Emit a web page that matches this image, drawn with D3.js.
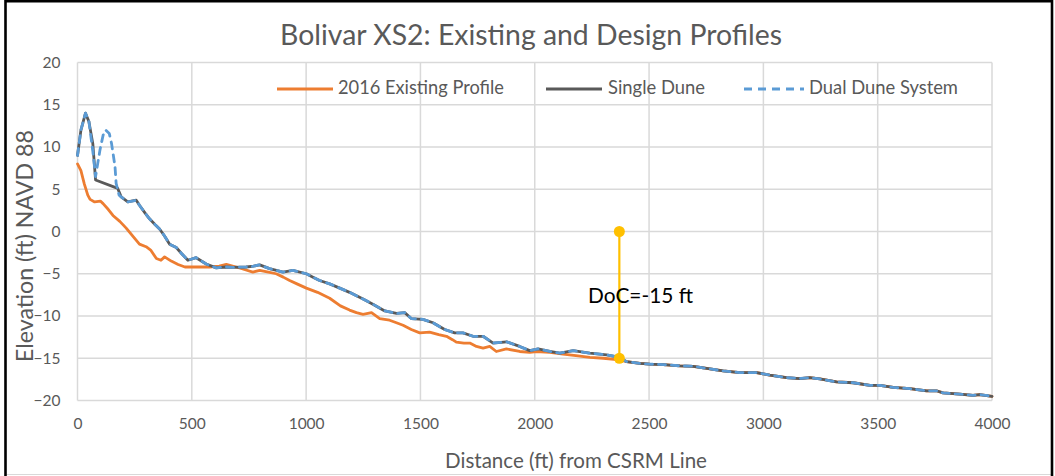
<!DOCTYPE html>
<html>
<head>
<meta charset="utf-8">
<script src="https://cdn.jsdelivr.net/npm/d3@7"></script>
<style>
  html, body { margin: 0; padding: 0; background: #fff; }
  svg { display: block; font-family: Lato, "Open Sans", sans-serif; }
</style>
</head>
<body>
<svg id="chart" width="1055" height="476"></svg>
<script>
// ---- Profile data: distance (ft) from CSRM line, elevation (ft NAVD 88) ----
const existingDist = [0, 15, 30, 45, 55, 75, 100, 112, 135, 155, 185, 213, 240, 271, 300, 320, 345, 365, 381, 410, 440, 470, 520, 578, 620, 651, 694, 730, 767, 797, 835, 869, 900, 928, 960, 1001, 1050, 1103, 1150, 1190, 1220, 1249, 1286, 1322, 1365, 1395, 1424, 1460, 1497, 1540, 1580, 1614, 1640, 1657, 1690, 1716, 1745, 1774, 1803, 1832, 1876, 1934, 1978, 2007, 2066, 2124, 2180, 2241, 2300, 2370];
const existingElev = [8.0, 7.2, 5.6, 4.3, 3.8, 3.5, 3.6, 3.3, 2.6, 1.9, 1.2, 0.4, -0.5, -1.5, -1.8, -2.2, -3.2, -3.4, -3.0, -3.5, -3.9, -4.2, -4.2, -4.2, -4.1, -3.9, -4.2, -4.5, -4.8, -4.6, -4.8, -5.0, -5.4, -5.8, -6.2, -6.7, -7.2, -7.9, -8.8, -9.3, -9.6, -9.8, -9.6, -10.3, -10.5, -10.8, -11.1, -11.6, -12.0, -11.9, -12.2, -12.4, -12.8, -13.1, -13.2, -13.2, -13.6, -13.8, -13.6, -14.2, -13.9, -14.2, -14.3, -14.2, -14.3, -14.5, -14.7, -14.9, -15.0, -15.2];

// Dune crest section of each design
const singleDuneDist = [0, 15, 35, 50, 67, 79, 176];
const singleDuneElev = [9.0, 12.0, 14.0, 13.0, 10.4, 6.1, 5.1];
const dualDuneDist = [0, 15, 35, 50, 67, 79, 98, 112, 123, 139, 149, 164, 169, 182];
const dualDuneElev = [9.0, 12.0, 14.0, 13.0, 9.5, 6.5, 9.6, 11.4, 12.0, 11.6, 10.4, 7.7, 5.7, 4.3];

// Shared design berm / nearshore fill
const designDist = [191, 220, 257, 271, 295, 315, 340, 359, 380, 403, 432, 455, 483, 519, 563, 607, 650, 680, 738, 770, 797, 840, 870, 899, 942, 1001, 1030, 1059, 1103, 1147, 1190, 1249, 1292, 1344, 1395, 1431, 1460, 1511, 1555, 1606, 1650, 1686, 1730, 1774, 1818, 1876, 1934, 1978, 2015, 2066, 2110, 2168, 2241, 2314, 2372];
const designElev = [4.1, 3.5, 3.7, 3.1, 2.2, 1.5, 0.8, 0.3, -0.5, -1.5, -1.9, -2.6, -3.4, -3.1, -3.85, -4.3, -4.2, -4.25, -4.2, -4.1, -3.95, -4.4, -4.6, -4.8, -4.6, -5.0, -5.4, -5.8, -6.2, -6.7, -7.2, -8.0, -8.6, -9.4, -9.7, -9.6, -10.3, -10.4, -10.8, -11.6, -12.0, -12.0, -12.4, -12.4, -13.2, -13.05, -13.6, -14.1, -13.9, -14.2, -14.4, -14.1, -14.4, -14.6, -14.9];

// Offshore of the depth of closure (all profiles coincide)
const offshoreDist = [2401, 2460, 2503, 2562, 2635, 2693, 2752, 2824, 2897, 2970, 3028, 3101, 3159, 3203, 3247, 3320, 3393, 3466, 3510, 3568, 3641, 3714, 3757, 3786, 3859, 3917, 3946, 4000];
const offshoreElev = [-15.4, -15.6, -15.7, -15.75, -15.9, -15.95, -16.2, -16.5, -16.7, -16.7, -17.0, -17.3, -17.4, -17.3, -17.45, -17.8, -17.9, -18.2, -18.2, -18.45, -18.6, -18.85, -18.85, -19.1, -19.25, -19.4, -19.3, -19.5];

// Depth of closure marker
const docDistance = 2370;
const docTop = 0;
const docDepth = -15;
const docLabel = "DoC=-15 ft";

const xTicks = [0, 500, 1000, 1500, 2000, 2500, 3000, 3500, 4000];
const yTicks = [-20, -15, -10, -5, 0, 5, 10, 15, 20];

const seriesNames = ["2016 Existing Profile", "Single Dune", "Dual Dune System"];
const titleText = "Bolivar XS2: Existing and Design Profiles";
const xTitle = "Distance (ft) from CSRM Line";
const yTitle = "Elevation (ft) NAVD 88";

// ---- Build point lists ----
const zip = (xs, ys) => xs.map((d, i) => ({ d, e: ys[i] }));
const offshore = zip(offshoreDist, offshoreElev);
const design = zip(designDist, designElev);
const existingPts = zip(existingDist, existingElev).concat(offshore);
const singlePts = zip(singleDuneDist, singleDuneElev).concat(design, offshore);
const dualPts = zip(dualDuneDist, dualDuneElev).concat(design, offshore);

// ---- Layout ----
const svg = d3.select("#chart");
const W = 1055, H = 476;
const plot = { left: 77.5, right: 992, top: 62.5, bottom: 400.5 };

const x = d3.scaleLinear().domain([0, 4000]).range([plot.left, plot.right]);
const y = d3.scaleLinear().domain([-20, 20]).range([plot.bottom, plot.top]);

const grey = "#595959";

// background and frame
svg.append("rect").attr("width", W).attr("height", H).attr("fill", "#fff");
svg.append("line").attr("x1", 6).attr("x2", 1052).attr("y1", 474.5).attr("y2", 474.5)
  .attr("stroke", "#d9d9d9").attr("stroke-width", 1);
svg.append("rect").attr("x", 5.5).attr("y", 1.2).attr("width", 1046.5).attr("height", 490)
  .attr("fill", "none").attr("stroke", "#000").attr("stroke-width", 2.6);

// gridlines
const grid = svg.append("g");
grid.selectAll(".hg").data(yTicks).join("line")
  .attr("x1", plot.left).attr("x2", plot.right)
  .attr("y1", d => y(d)).attr("y2", d => y(d))
  .attr("stroke", "#d9d9d9").attr("stroke-width", 1.5);
grid.selectAll(".vg").data(xTicks).join("line")
  .attr("x1", d => x(d)).attr("x2", d => x(d))
  .attr("y1", plot.top).attr("y2", plot.bottom)
  .attr("stroke", "#d9d9d9").attr("stroke-width", 1.5);

// axes (labels only, Excel-style)
const xAxis = svg.append("g").attr("transform", `translate(0,${plot.bottom + 14})`)
  .call(d3.axisBottom(x).tickValues(xTicks).tickSize(0).tickFormat(d3.format("d")));
xAxis.select(".domain").remove();
xAxis.selectAll("text").attr("fill", grey).attr("font-size", 15.5)
  .attr("font-family", "Lato, sans-serif").attr("dy", "0.71em");

const yAxis = svg.append("g").attr("transform", `translate(${plot.left - 14},0)`)
  .call(d3.axisLeft(y).tickValues(yTicks).tickSize(0).tickFormat(d3.format("d")));
yAxis.select(".domain").remove();
yAxis.selectAll("text").attr("fill", grey).attr("font-size", 15.5)
  .attr("font-family", "Lato, sans-serif");

// fit a text element to a target width by adjusting its font size
function fitWidth(sel, target) {
  const n = sel.node();
  const fs = parseFloat(sel.attr("font-size"));
  const w = n.getComputedTextLength();
  if (w > 0) sel.attr("font-size", (fs * target / w).toFixed(2));
  return sel;
}

// title
fitWidth(svg.append("text").attr("x", 531).attr("y", 38).attr("text-anchor", "middle")
  .attr("dominant-baseline", "middle").attr("fill", grey).attr("font-size", 24)
  .text(titleText), 502);

// axis titles
fitWidth(svg.append("text").attr("x", 576).attr("y", 463).attr("text-anchor", "middle")
  .attr("dominant-baseline", "middle").attr("fill", grey).attr("font-size", 17)
  .text(xTitle), 262);
fitWidth(svg.append("text").attr("transform", "translate(27,246) rotate(-90)")
  .attr("text-anchor", "middle").attr("dominant-baseline", "middle")
  .attr("fill", grey).attr("font-size", 17).text(yTitle), 232);

// profile lines
const line = d3.line().x(p => x(p.d)).y(p => y(p.e));
const lines = svg.append("g").attr("fill", "none").attr("stroke-linejoin", "round");
lines.append("path").datum(existingPts).attr("d", line)
  .attr("stroke", "#ED7D31").attr("stroke-width", 2.8).attr("stroke-linecap", "round");
lines.append("path").datum(singlePts).attr("d", line)
  .attr("stroke", grey).attr("stroke-width", 2.8).attr("stroke-linecap", "round");
lines.append("path").datum(dualPts).attr("d", line)
  .attr("stroke", "#5B9BD5").attr("stroke-width", 2.8).attr("stroke-linecap", "round")
  .attr("stroke-dasharray", "7,6");

// depth of closure marker
const doc = svg.append("g");
doc.append("line").attr("x1", x(docDistance)).attr("x2", x(docDistance))
  .attr("y1", y(docTop)).attr("y2", y(docDepth))
  .attr("stroke", "#FFC000").attr("stroke-width", 2.2);
doc.selectAll("circle").data([docTop, docDepth]).join("circle")
  .attr("cx", x(docDistance)).attr("cy", d => y(d)).attr("r", 5.5).attr("fill", "#FFC000");
fitWidth(doc.append("text").attr("x", 588).attr("y", 298).attr("dominant-baseline", "middle")
  .attr("fill", "#000").attr("font-size", 18).text(docLabel), 105);

// legend
const legendItems = [
  { name: seriesNames[0], color: "#ED7D31", dash: null, x0: 277, x1: 333, tx: 338, tw: 166 },
  { name: seriesNames[1], color: grey, dash: null, x0: 546, x1: 602, tx: 608, tw: 97 },
  { name: seriesNames[2], color: "#5B9BD5", dash: "8,6", x0: 744, x1: 804, tx: 809, tw: 149 }
];
const legend = svg.append("g");
legendItems.forEach(it => {
  legend.append("line").attr("x1", it.x0).attr("x2", it.x1).attr("y1", 89).attr("y2", 89)
    .attr("stroke", it.color).attr("stroke-width", 2.8)
    .attr("stroke-dasharray", it.dash);
  fitWidth(legend.append("text").attr("x", it.tx).attr("y", 89)
    .attr("dominant-baseline", "middle").attr("fill", grey).attr("font-size", 16)
    .text(it.name), it.tw);
});
</script>
</body>
</html>
